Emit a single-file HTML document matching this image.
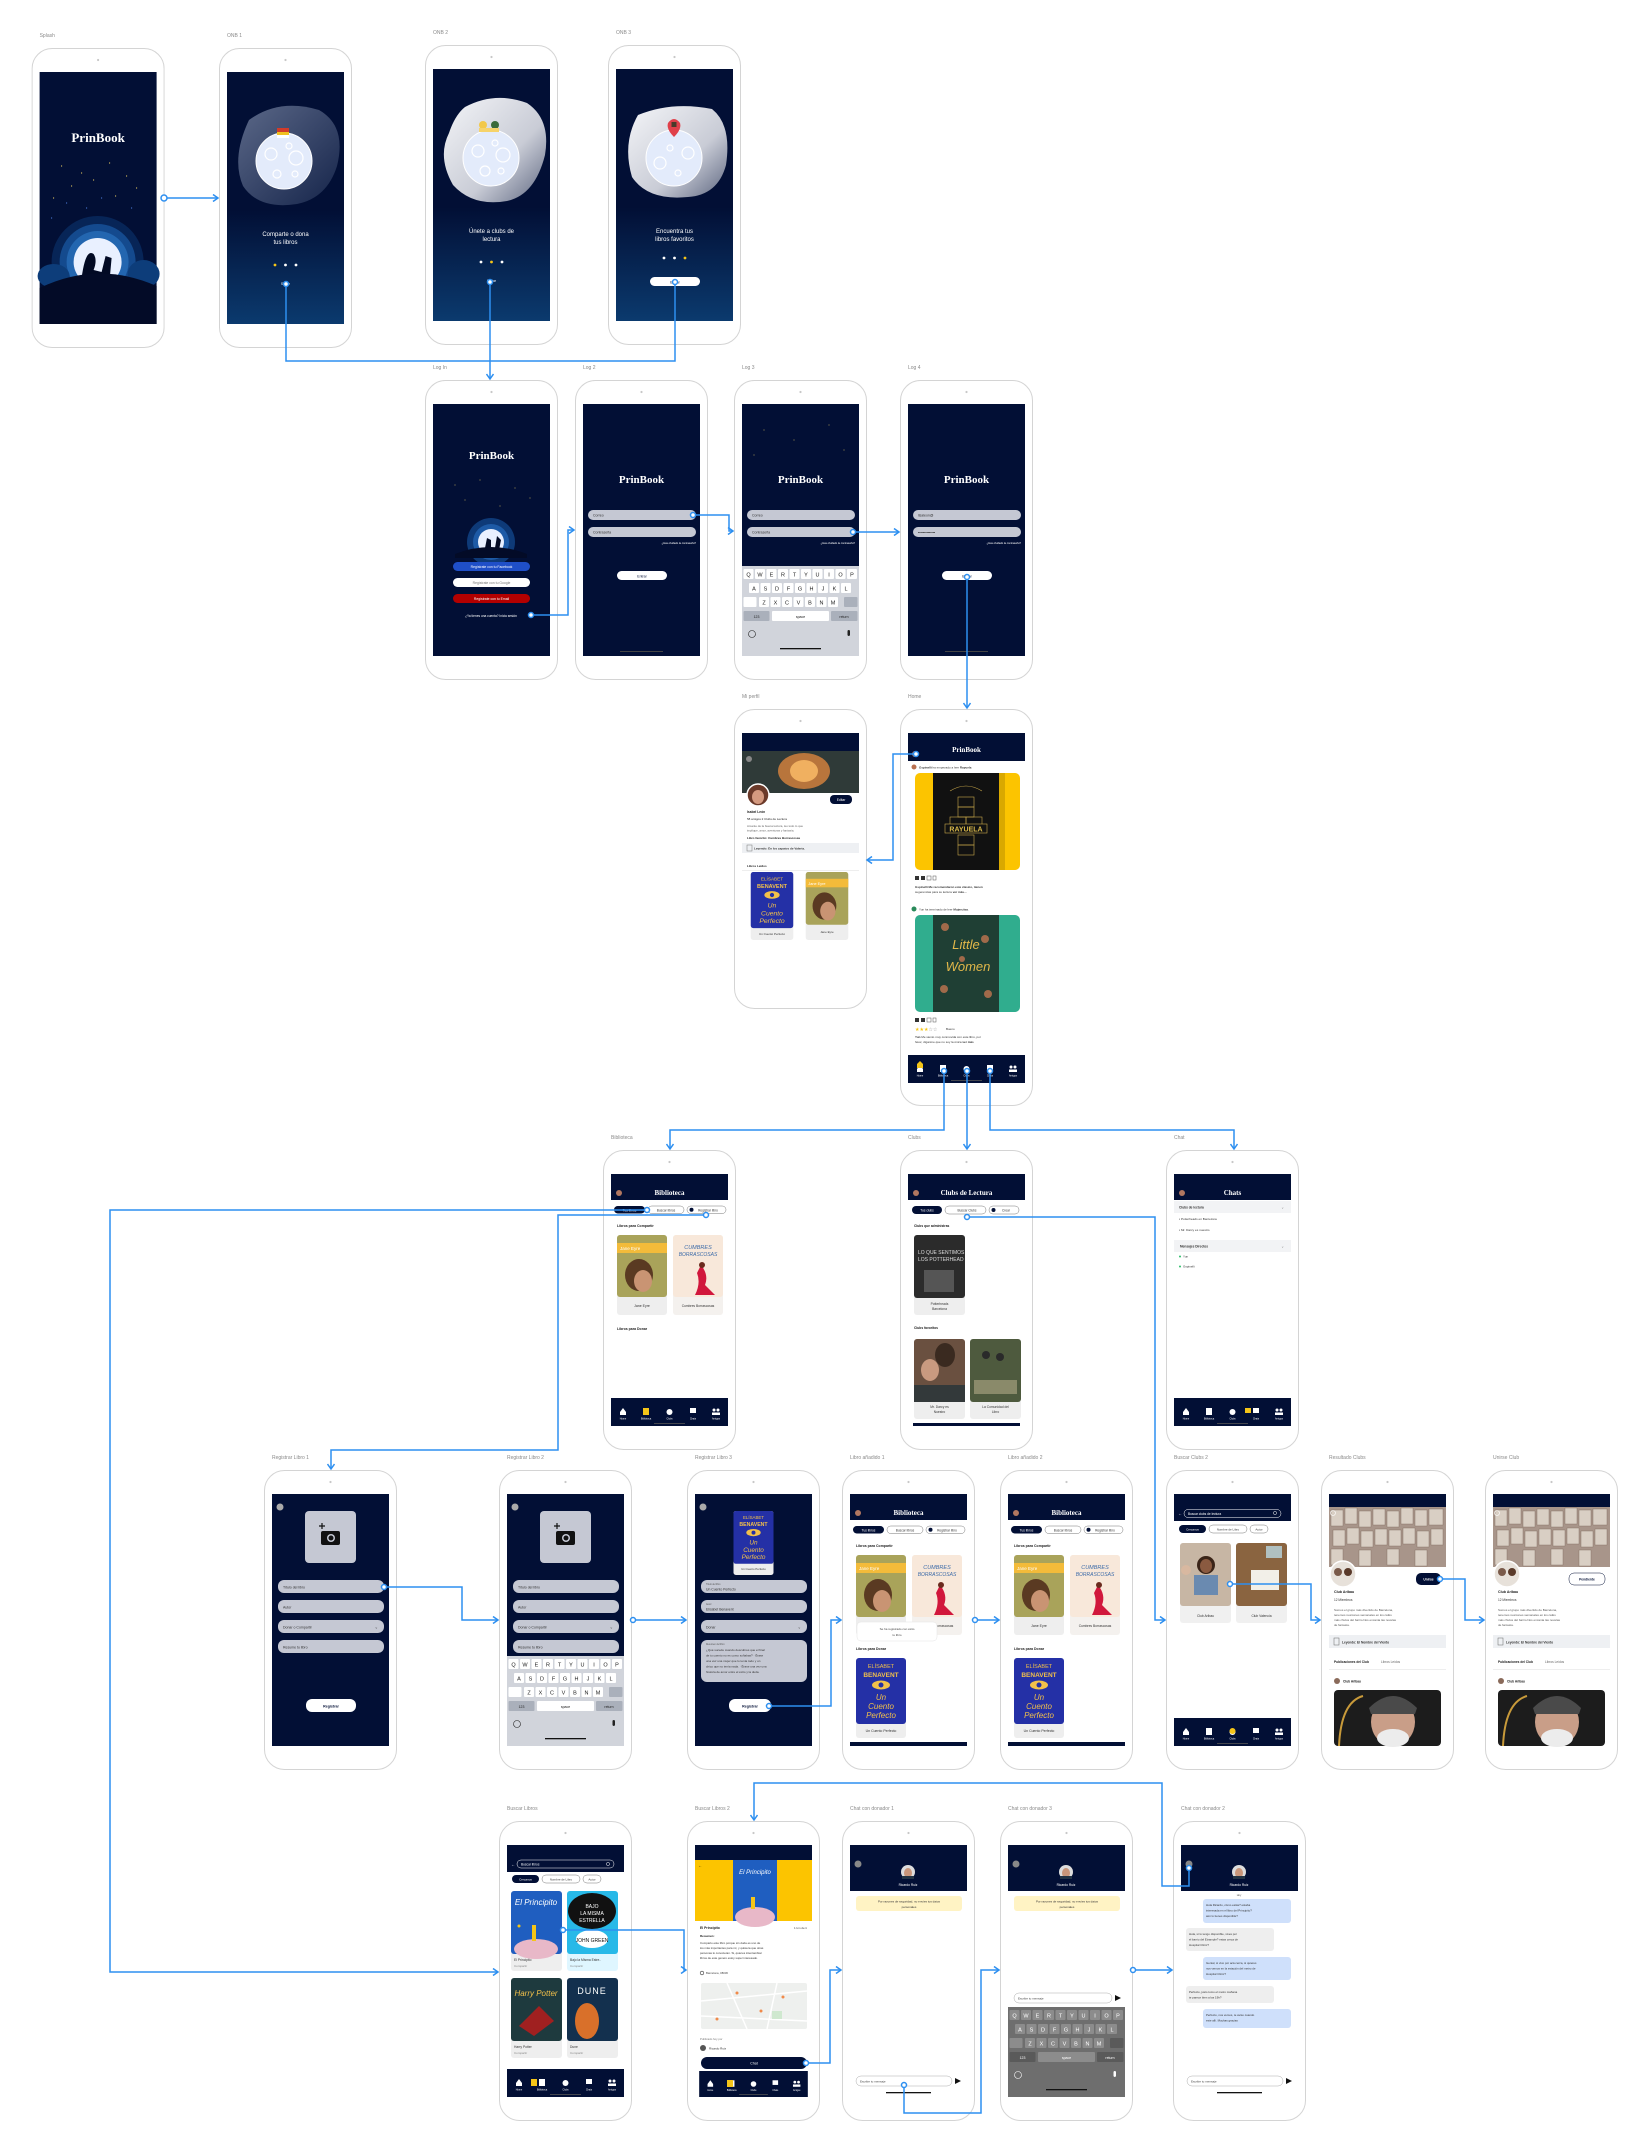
<!DOCTYPE html>
<html><head><meta charset="utf-8">
<style>
html,body{margin:0;padding:0;background:#fff;}
svg{display:block}
text{font-family:"Liberation Sans",sans-serif;}
.s{font-family:"Liberation Serif",serif;font-weight:bold;}
.m{text-anchor:middle}
.e{text-anchor:end}
.lb{font-size:5px;fill:#8a8a8a}
.c{fill:none;stroke:#2d8ff0;stroke-width:1.5}
.o{fill:#fff;stroke:#2d8ff0;stroke-width:1.5}
</style></head><body>
<svg width="1650" height="2154" viewBox="0 0 1650 2154" xmlns="http://www.w3.org/2000/svg">
<defs>
<marker id="a" markerWidth="8" markerHeight="8" refX="6" refY="4" orient="auto" markerUnits="userSpaceOnUse"><path d="M1,0.5 L6,4 L1,7.5" fill="none" stroke="#2d8ff0" stroke-width="1.5"/></marker>
<linearGradient id="onb" x1="0" y1="0" x2="0" y2="1"><stop offset="0.55" stop-color="#020f35"/><stop offset="1" stop-color="#0b3a6e"/></linearGradient>
<linearGradient id="bd" x1="0" y1="0" x2="1" y2="1"><stop offset="0" stop-color="#5b6888"/><stop offset="1" stop-color="#15244a"/></linearGradient>
<linearGradient id="bl" x1="0" y1="0" x2="1" y2="1"><stop offset="0" stop-color="#f4f5f8"/><stop offset="0.6" stop-color="#c9ccd6"/><stop offset="1" stop-color="#5d6680"/></linearGradient>
<symbol id="fr" viewBox="0 0 133 300" width="133" height="300"><rect x="0.5" y="0.5" width="132" height="299" rx="20" fill="#fff" stroke="#d4d4d4"/><circle cx="66.5" cy="12" r="1.1" fill="#c8c8c8"/></symbol>
<symbol id="nav" viewBox="0 0 117 28" width="117" height="28"><rect width="117" height="28" fill="#020f35"/>
<g fill="#fff"><path d="M9,14 L12,10 L15,14 V17 H9Z"/><rect x="32" y="10" width="6" height="7"/><circle cx="58.5" cy="14" r="3"/><rect x="79" y="10" width="6" height="5"/><circle cx="103" cy="12" r="1.5"/><circle cx="107" cy="12" r="1.5"/><rect x="101" y="14.5" width="8" height="2.5"/></g>
<g font-size="2.4" fill="#fff" text-anchor="middle"><text x="12" y="21.5">Home</text><text x="35" y="21.5">Biblioteca</text><text x="58.5" y="21.5">Clubs</text><text x="82" y="21.5">Chats</text><text x="105" y="21.5">Amigos</text></g>
<rect x="43" y="25" width="31" height="0.8" fill="#555"/></symbol>
<symbol id="kb" viewBox="0 0 117 90" width="117" height="90"><rect width="117" height="90" fill="var(--bg)"/>
<g fill="var(--k)"><rect x="1.5" y="3" width="10" height="10" rx="1"/><rect x="13" y="3" width="10" height="10" rx="1"/><rect x="24.5" y="3" width="10" height="10" rx="1"/><rect x="36" y="3" width="10" height="10" rx="1"/><rect x="47.5" y="3" width="10" height="10" rx="1"/><rect x="59" y="3" width="10" height="10" rx="1"/><rect x="70.5" y="3" width="10" height="10" rx="1"/><rect x="82" y="3" width="10" height="10" rx="1"/><rect x="93.5" y="3" width="10" height="10" rx="1"/><rect x="105" y="3" width="10" height="10" rx="1"/>
<rect x="7" y="17" width="10" height="10" rx="1"/><rect x="18.5" y="17" width="10" height="10" rx="1"/><rect x="30" y="17" width="10" height="10" rx="1"/><rect x="41.5" y="17" width="10" height="10" rx="1"/><rect x="53" y="17" width="10" height="10" rx="1"/><rect x="64.5" y="17" width="10" height="10" rx="1"/><rect x="76" y="17" width="10" height="10" rx="1"/><rect x="87.5" y="17" width="10" height="10" rx="1"/><rect x="99" y="17" width="10" height="10" rx="1"/>
<rect x="1.5" y="31" width="13" height="10" rx="1"/><rect x="17" y="31" width="10" height="10" rx="1"/><rect x="28.5" y="31" width="10" height="10" rx="1"/><rect x="40" y="31" width="10" height="10" rx="1"/><rect x="51.5" y="31" width="10" height="10" rx="1"/><rect x="63" y="31" width="10" height="10" rx="1"/><rect x="74.5" y="31" width="10" height="10" rx="1"/><rect x="86" y="31" width="10" height="10" rx="1"/>
<rect x="30" y="45" width="57" height="10" rx="1"/></g>
<g fill="var(--g)"><rect x="102" y="31" width="13.5" height="10" rx="1"/><rect x="1.5" y="45" width="26" height="10" rx="1"/><rect x="89" y="45" width="26.5" height="10" rx="1"/></g>
<g font-size="5.5" fill="var(--t)" text-anchor="middle"><text x="6.5" y="10.5">Q</text><text x="18" y="10.5">W</text><text x="29.5" y="10.5">E</text><text x="41" y="10.5">R</text><text x="52.5" y="10.5">T</text><text x="64" y="10.5">Y</text><text x="75.5" y="10.5">U</text><text x="87" y="10.5">I</text><text x="98.5" y="10.5">O</text><text x="110" y="10.5">P</text>
<text x="12" y="24.5">A</text><text x="23.5" y="24.5">S</text><text x="35" y="24.5">D</text><text x="46.5" y="24.5">F</text><text x="58" y="24.5">G</text><text x="69.5" y="24.5">H</text><text x="81" y="24.5">J</text><text x="92.5" y="24.5">K</text><text x="104" y="24.5">L</text>
<text x="22" y="38.5">Z</text><text x="33.5" y="38.5">X</text><text x="45" y="38.5">C</text><text x="56.5" y="38.5">V</text><text x="68" y="38.5">B</text><text x="79.5" y="38.5">N</text><text x="91" y="38.5">M</text>
<text x="14.5" y="52" font-size="3.5">123</text><text x="58.5" y="52" font-size="3.5">space</text><text x="102" y="52" font-size="3.5">return</text></g>
<circle cx="10" cy="68" r="3.5" fill="none" stroke="var(--t)" stroke-width="0.6"/><rect x="105.5" y="64" width="2.5" height="6" rx="1.2" fill="var(--t)"/><rect x="38" y="82" width="41" height="1.3" fill="#111"/></symbol>
<symbol id="pills" viewBox="0 0 117 10" width="117" height="10">
<rect x="3" y="1" width="31" height="7.5" rx="3.7" fill="#020f35"/><text x="18.5" y="6.3" font-size="3.2" fill="#fff" text-anchor="middle">Tus libros</text>
<rect x="37" y="1" width="36" height="7.5" rx="3.7" fill="#fff" stroke="#777" stroke-width="0.5"/><text x="55" y="6.3" font-size="3.2" fill="#333" text-anchor="middle">Buscar libros</text>
<rect x="76" y="1" width="39" height="7.5" rx="3.7" fill="#fff" stroke="#777" stroke-width="0.5"/><circle cx="80.5" cy="4.75" r="2" fill="#020f35"/><text x="97" y="6.3" font-size="3.2" fill="#333" text-anchor="middle">Registrar libro</text></symbol>
<symbol id="jane" viewBox="0 0 50 80" width="50" height="80"><rect width="50" height="80" rx="3" fill="#eeeeee"/><rect width="50" height="62" rx="3" fill="#a9a35a"/><rect y="8" width="50" height="10" fill="#f3bb3a"/><text x="3" y="15" font-size="4.5" fill="#fff">Jane Eyre</text><ellipse cx="22" cy="40" rx="14" ry="16" fill="#5a3a22"/><ellipse cx="26" cy="46" rx="9" ry="11" fill="#c99473"/><text x="25" y="72" font-size="3.5" fill="#333" text-anchor="middle">Jane Eyre</text></symbol>
<symbol id="cumb" viewBox="0 0 50 80" width="50" height="80"><rect width="50" height="80" rx="3" fill="#f4f1ee"/><rect width="50" height="62" rx="3" fill="#f8e8da"/><text x="25" y="14" font-size="5.5" fill="#3b6aa8" text-anchor="middle" font-style="italic">CUMBRES</text><text x="25" y="21" font-size="5" fill="#3b6aa8" text-anchor="middle" font-style="italic">BORRASCOSAS</text><path d="M28,30 Q36,40 32,50 L42,60 L22,60 Q28,48 24,38Z" fill="#d1173c"/><circle cx="29" cy="30" r="3" fill="#6b2a1e"/><text x="25" y="72" font-size="3.3" fill="#333" text-anchor="middle">Cumbres Borrascosas</text></symbol>
<symbol id="cuento" viewBox="0 0 50 80" width="50" height="80"><rect width="50" height="80" rx="3" fill="#eeeeee"/><rect width="50" height="66" rx="3" fill="#2430a6"/><text x="25" y="10" font-size="5.5" fill="#f2c04a" text-anchor="middle">ELÍSABET</text><text x="25" y="19" font-size="6.5" fill="#f2c04a" text-anchor="middle" font-weight="bold">BENAVENT</text><ellipse cx="25" cy="27" rx="9" ry="4.5" fill="#f2c04a"/><circle cx="25" cy="27" r="2.5" fill="#2430a6"/><text x="25" y="42" font-size="8" fill="#f2c04a" text-anchor="middle" font-style="italic">Un</text><text x="25" y="51" font-size="8" fill="#f2c04a" text-anchor="middle" font-style="italic">Cuento</text><text x="25" y="60" font-size="8" fill="#f2c04a" text-anchor="middle" font-style="italic">Perfecto</text><text x="25" y="74" font-size="3.5" fill="#333" text-anchor="middle">Un Cuento Perfecto</text></symbol>
<symbol id="bib" viewBox="0 0 133 300" width="133" height="300">
<use href="#fr"/><rect x="8" y="24" width="117" height="252" fill="#fff"/><rect x="8" y="24" width="117" height="26" fill="#020f35"/><circle cx="16" cy="43" r="3" fill="#b17760"/><text x="66.5" y="45" class="s m" font-size="7" fill="#fff">Biblioteca</text>
<use href="#pills" x="8" y="55"/><text x="14" y="77" font-size="3.5" font-weight="bold" fill="#222">Libros para Compartir</text>
<use href="#jane" x="14" y="85"/><use href="#cumb" x="70" y="85"/><text x="14" y="180" font-size="3.5" font-weight="bold" fill="#222">Libros para Donar</text></symbol>
<symbol id="club" viewBox="0 0 133 300" width="133" height="300">
<use href="#fr"/><rect x="8" y="24" width="117" height="252" fill="#fff"/><rect x="8" y="24" width="117" height="13" fill="#020f35"/><rect x="8" y="37" width="117" height="60" fill="#a8958a"/>
<g fill="#d9cfc4" stroke="#7d6a5c" stroke-width="0.4"><rect x="10" y="40" width="12" height="16"/><rect x="24" y="38" width="12" height="16"/><rect x="38" y="41" width="12" height="16"/><rect x="52" y="39" width="12" height="16"/><rect x="66" y="41" width="12" height="16"/><rect x="80" y="38" width="12" height="16"/><rect x="94" y="40" width="12" height="16"/><rect x="108" y="39" width="14" height="16"/><rect x="12" y="60" width="12" height="16"/><rect x="26" y="58" width="12" height="16"/><rect x="40" y="61" width="12" height="16"/><rect x="54" y="59" width="12" height="16"/><rect x="68" y="60" width="12" height="16"/><rect x="82" y="58" width="12" height="16"/><rect x="96" y="61" width="12" height="16"/><rect x="110" y="59" width="12" height="16"/><rect x="10" y="79" width="12" height="16"/><rect x="38" y="80" width="12" height="16"/><rect x="66" y="79" width="12" height="16"/><rect x="94" y="80" width="12" height="16"/></g>
<circle cx="12" cy="43" r="2.5" fill="none" stroke="#fff" stroke-width="0.6"/>
<circle cx="22" cy="104" r="13" fill="#e7e1da" stroke="#fff" stroke-width="1.5"/><circle cx="17" cy="102" r="4" fill="#7a5a4a"/><circle cx="27" cy="102" r="4" fill="#5a3a2a"/>
<text x="13" y="123" font-size="3.6" font-weight="bold" fill="#222">Club Aribau</text><text x="13" y="131" font-size="3.2" fill="#333">12 Miembros</text>
<g font-size="3" fill="#555"><text x="13" y="141">Somos el grupo más divertido de Barcelona,</text><text x="13" y="146">tenemos reuniones semanales en los cafés</text><text x="13" y="151">más chulos del barrio.Nos encanta las novelas</text><text x="13" y="156">de fantasía.</text></g>
<rect x="8" y="165" width="117" height="13" fill="#eef0f3"/><rect x="13" y="168" width="5" height="7" fill="none" stroke="#666" stroke-width="0.5"/><text x="21" y="173.5" font-size="3.2" font-weight="bold" fill="#333">Leyendo: El Nombre del Viento</text>
<text x="13" y="193" font-size="3.2" font-weight="bold" fill="#222">Publicaciones  del Club</text><text x="60" y="193" font-size="3.2" fill="#666">Libros Leídos</text><rect x="8" y="199" width="117" height="1" fill="#eee"/>
<circle cx="16" cy="211" r="3" fill="#8a6a5a"/><text x="22" y="212.5" font-size="3.2" font-weight="bold" fill="#222">Club Aribau</text>
<rect x="13" y="220" width="107" height="56" rx="4" fill="#1c1c1c"/><ellipse cx="72" cy="252" rx="22" ry="24" fill="#c99e88"/><path d="M48,238 Q72,214 96,238 L94,244 L50,244Z" fill="#4a4a4a"/><ellipse cx="72" cy="268" rx="16" ry="9" fill="#ececec"/><path d="M18,276 Q20,232 42,226" fill="none" stroke="#c89a3a" stroke-width="2"/></symbol>
</defs>

<!-- ============ ROW 1 ============ -->
<g transform="translate(31.6,48)"><text x="8" y="-11" class="lb">Splash</text><use href="#fr"/>
<rect x="8" y="24" width="117" height="252" fill="#020f35"/>
<text x="66.5" y="94" class="s m" font-size="13" fill="#fff">PrinBook</text>
<g fill="#e2c862"><circle cx="30" cy="118" r="0.6"/><circle cx="50" cy="125" r="0.6"/><circle cx="78" cy="115" r="0.6"/><circle cx="95" cy="128" r="0.6"/><circle cx="40" cy="138" r="0.6"/><circle cx="62" cy="132" r="0.6"/><circle cx="105" cy="140" r="0.6"/><circle cx="22" cy="150" r="0.6"/><circle cx="84" cy="148" r="0.6"/></g>
<g fill="#4c7ad8"><circle cx="35" cy="155" r="0.6"/><circle cx="70" cy="150" r="0.6"/><circle cx="100" cy="160" r="0.6"/><circle cx="55" cy="160" r="0.6"/><circle cx="20" cy="170" r="0.6"/></g>
<circle cx="66" cy="214" r="46" fill="#0a2f66" opacity="0.7"/><circle cx="66" cy="214" r="38" fill="#144a8e"/><circle cx="66" cy="214" r="31" fill="#2366b0"/><circle cx="66" cy="214" r="24" fill="#e9f0ff"/>
<ellipse cx="22" cy="228" rx="16" ry="12" fill="#0d3d7a"/><ellipse cx="112" cy="226" rx="16" ry="14" fill="#0d3d7a"/>
<path d="M50,230 Q54,200 62,206 Q66,212 62,222 L70,224 L74,208 L80,210 L78,232Z" fill="#020a24"/>
<path d="M8,240 Q66,212 125,238 V276 H8Z" fill="#030b27"/></g>

<g transform="translate(219,48)"><text x="8" y="-11" class="lb">ONB 1</text><use href="#fr"/>
<rect x="8" y="24" width="117" height="252" fill="url(#onb)"/>
<path d="M30,72 Q60,50 100,62 Q128,78 118,118 Q108,150 78,156 Q40,162 24,138 Q12,110 30,72Z" fill="url(#bd)"/>
<circle cx="65" cy="113" r="28" fill="#e3ebfb" stroke="#fff" stroke-width="1"/><g fill="none" stroke="#fff" stroke-width="1.2"><circle cx="52" cy="106" r="6"/><circle cx="77" cy="110" r="7"/><circle cx="58" cy="126" r="4"/><circle cx="70" cy="98" r="3"/><circle cx="76" cy="126" r="3"/></g>
<rect x="58" y="80" width="12" height="4" fill="#d13b2a"/><rect x="58" y="84" width="12" height="3" fill="#f0c020"/><rect x="58" y="87" width="12" height="3" fill="#fff"/>
<text x="66.5" y="188" class="m" font-size="6" fill="#fff">Comparte o dona</text><text x="66.5" y="196" class="m" font-size="6" fill="#fff">tus libros</text>
<circle cx="56" cy="217" r="1.4" fill="#f5c518"/><circle cx="66.5" cy="217" r="1.4" fill="#fff"/><circle cx="77" cy="217" r="1.4" fill="#fff"/>
<text x="66.5" y="237" class="m" font-size="3.5" fill="#fff">Saltar</text></g>

<g transform="translate(425,45)"><text x="8" y="-11" class="lb">ONB 2</text><use href="#fr"/>
<rect x="8" y="24" width="117" height="252" fill="url(#onb)"/>
<path d="M40,62 Q70,46 102,58 Q126,74 120,110 Q110,150 82,156 Q48,162 28,140 Q12,112 24,88 Q30,70 40,62Z" fill="url(#bl)"/>
<circle cx="66" cy="113" r="28" fill="#e3ebfb" stroke="#fff" stroke-width="1"/><g fill="none" stroke="#fff" stroke-width="1.2"><circle cx="53" cy="106" r="6"/><circle cx="78" cy="110" r="7"/><circle cx="60" cy="126" r="5"/><circle cx="70" cy="98" r="3"/><circle cx="76" cy="126" r="3"/></g>
<circle cx="58" cy="80" r="4" fill="#f2c84a"/><circle cx="70" cy="80" r="4" fill="#3a6b3a"/><rect x="54" y="83" width="20" height="4" fill="#f6d36a"/>
<text x="66.5" y="188" class="m" font-size="6" fill="#fff">Únete a clubs de</text><text x="66.5" y="196" class="m" font-size="6" fill="#fff">lectura</text>
<circle cx="56" cy="217" r="1.4" fill="#fff"/><circle cx="66.5" cy="217" r="1.4" fill="#f5c518"/><circle cx="77" cy="217" r="1.4" fill="#fff"/>
<text x="66.5" y="237" class="m" font-size="3.5" fill="#fff">Saltar</text></g>

<g transform="translate(608,45)"><text x="8" y="-11" class="lb">ONB 3</text><use href="#fr"/>
<rect x="8" y="24" width="117" height="252" fill="url(#onb)"/>
<path d="M30,70 Q64,56 104,64 Q124,80 118,120 Q110,150 80,152 Q40,156 24,132 Q14,98 30,70Z" fill="url(#bl)"/>
<circle cx="66" cy="113" r="28" fill="#e3ebfb" stroke="#fff" stroke-width="1"/><g fill="none" stroke="#fff" stroke-width="1.2"><circle cx="52" cy="118" r="6"/><circle cx="80" cy="108" r="6"/><circle cx="62" cy="103" r="3"/><circle cx="70" cy="128" r="3"/></g>
<path d="M66,92 Q58,84 60,78 Q66,70 72,78 Q74,84 66,92Z" fill="#e0404a"/><rect x="63.5" y="77" width="5" height="5" fill="#4a3a2a"/>
<text x="66.5" y="188" class="m" font-size="6" fill="#fff">Encuentra tus</text><text x="66.5" y="196" class="m" font-size="6" fill="#fff">libros favoritos</text>
<circle cx="56" cy="213" r="1.4" fill="#fff"/><circle cx="66.5" cy="213" r="1.4" fill="#fff"/><circle cx="77" cy="213" r="1.4" fill="#f5c518"/>
<rect x="42" y="232" width="50" height="9" rx="4.5" fill="#fff"/><text x="67" y="238.5" class="m" font-size="3.5" fill="#020f35">Entrar</text></g>

<!-- ============ ROW 2 ============ -->
<g transform="translate(425,380)"><text x="8" y="-11" class="lb">Log In</text><use href="#fr"/>
<rect x="8" y="24" width="117" height="252" fill="#020f35"/>
<text x="66.5" y="79" class="s m" font-size="11" fill="#fff">PrinBook</text>
<g fill="#d8c060"><circle cx="30" cy="105" r="0.5"/><circle cx="55" cy="100" r="0.5"/><circle cx="90" cy="108" r="0.5"/><circle cx="40" cy="120" r="0.5"/><circle cx="105" cy="118" r="0.5"/><circle cx="75" cy="126" r="0.5"/></g>
<circle cx="66" cy="162" r="24" fill="#0e3a78"/><circle cx="66" cy="162" r="18" fill="#1d5aa6"/><circle cx="66" cy="162" r="13" fill="#e9f0ff"/>
<path d="M60,168 L62,158 L66,160 L66,168Z M70,168 L72,156 L76,160 L74,170Z" fill="#020a24"/><path d="M30,174 Q66,160 102,174 V178 H30Z" fill="#030b27"/>
<rect x="28" y="182" width="77" height="9" rx="4.5" fill="#1f4fc8"/><text x="66.5" y="188" class="m" font-size="3.4" fill="#fff">Regístrate con tu Facebook</text>
<rect x="28" y="198" width="77" height="9" rx="4.5" fill="#fff"/><text x="66.5" y="204" class="m" font-size="3.4" fill="#777">Regístrate con tu Google</text>
<rect x="28" y="214" width="77" height="9" rx="4.5" fill="#b30000"/><text x="66.5" y="220" class="m" font-size="3.4" fill="#fff">Regístrate con tu Email</text>
<text x="66" y="237" class="m" font-size="3.2" fill="#fff">¿Ya tienes una cuenta? Inicia sesión</text></g>

<g transform="translate(575,380)"><text x="8" y="-11" class="lb">Log 2</text><use href="#fr"/>
<rect x="8" y="24" width="117" height="252" fill="#020f35"/>
<text x="66.5" y="103" class="s m" font-size="11" fill="#fff">PrinBook</text>
<rect x="13" y="130" width="108" height="10" rx="5" fill="#c5c8d3"/><text x="18" y="136.5" font-size="3.5" fill="#333">Correo</text>
<rect x="13" y="147" width="108" height="10" rx="5" fill="#c5c8d3"/><text x="18" y="153.5" font-size="3.5" fill="#333">Contraseña</text>
<text x="121" y="164" class="e" font-size="2.6" fill="#fff">¿Has olvidado la contraseña?</text>
<rect x="42" y="191" width="50" height="9" rx="4.5" fill="#fff"/><text x="67" y="197.5" class="m" font-size="3.5" fill="#020f35">Entrar</text>
<rect x="45" y="271" width="43" height="1" fill="#444"/></g>

<g transform="translate(734,380)"><text x="8" y="-11" class="lb">Log 3</text><use href="#fr"/>
<rect x="8" y="24" width="117" height="252" fill="#020f35"/>
<g fill="#d8c060"><circle cx="30" cy="50" r="0.5"/><circle cx="95" cy="45" r="0.5"/><circle cx="60" cy="60" r="0.5"/><circle cx="20" cy="75" r="0.5"/><circle cx="110" cy="70" r="0.5"/></g>
<text x="66.5" y="103" class="s m" font-size="11" fill="#fff">PrinBook</text>
<rect x="13" y="130" width="108" height="10" rx="5" fill="#c5c8d3"/><text x="18" y="136.5" font-size="3.5" fill="#333">Correo</text>
<rect x="13" y="147" width="108" height="10" rx="5" fill="#c5c8d3"/><text x="18" y="153.5" font-size="3.5" fill="#333">Contraseña</text>
<text x="121" y="164" class="e" font-size="2.6" fill="#fff">¿Has olvidado la contraseña?</text>
<use href="#kb" x="8" y="186" style="--bg:#d1d4db;--k:#fff;--t:#222;--g:#aab0bb"/></g>

<g transform="translate(900,380)"><text x="8" y="-11" class="lb">Log 4</text><use href="#fr"/>
<rect x="8" y="24" width="117" height="252" fill="#020f35"/>
<text x="66.5" y="103" class="s m" font-size="11" fill="#fff">PrinBook</text>
<rect x="13" y="130" width="108" height="10" rx="5" fill="#c5c8d3"/><text x="18" y="136.5" font-size="3.5" fill="#333">lisaleon@</text>
<rect x="13" y="147" width="108" height="10" rx="5" fill="#c5c8d3"/><text x="18" y="153.5" font-size="3.5" fill="#333">••••••••••••••</text>
<text x="121" y="164" class="e" font-size="2.6" fill="#fff">¿Has olvidado la contraseña?</text>
<rect x="42" y="191" width="50" height="9" rx="4.5" fill="#fff"/><text x="67" y="197.5" class="m" font-size="3.5" fill="#020f35">Entrar</text>
<rect x="45" y="271" width="43" height="1" fill="#444"/></g>

<!-- ============ ROW 3 ============ -->
<g transform="translate(734,709)"><text x="8" y="-11" class="lb">Mi perfil</text><use href="#fr"/>
<rect x="8" y="24" width="117" height="252" fill="#fff"/><rect x="8" y="24" width="117" height="18" fill="#020f35"/>
<rect x="8" y="42" width="117" height="42" fill="#2f3a38"/><ellipse cx="70" cy="62" rx="26" ry="18" fill="#b8753c"/><ellipse cx="70" cy="62" rx="14" ry="11" fill="#f0b060"/><circle cx="15" cy="50" r="3" fill="#888"/>
<circle cx="24" cy="86" r="11" fill="#6b3a2a" stroke="#fff" stroke-width="1.5"/><ellipse cx="24" cy="88" rx="6" ry="7" fill="#d49a80"/>
<rect x="96" y="86" width="22" height="9" rx="4" fill="#020f35"/><text x="107" y="92" class="m" font-size="3.3" fill="#fff">Editar</text>
<text x="13" y="104" font-size="3.3" font-weight="bold" fill="#222">Isabel León</text><text x="13" y="111" font-size="3" fill="#222">58 amigos    2 Clubs de Lectura</text>
<text x="13" y="118" font-size="2.9" fill="#666">Amante de la buena lectura, leo todo lo que</text><text x="13" y="122.5" font-size="2.9" fill="#666">implique, amor, aventuras y fantasía.</text>
<text x="13" y="130" font-size="3" font-weight="bold" fill="#222">Libro favorito: Cumbres Borrascosas</text>
<rect x="8" y="134" width="117" height="10" fill="#eef0f3"/><rect x="13" y="136" width="5" height="6" fill="none" stroke="#777" stroke-width="0.5"/><text x="20" y="140.5" font-size="3" font-weight="bold" fill="#333">Leyendo: En los zapatos de Valeria.</text>
<text x="13" y="158" font-size="3" font-weight="bold" fill="#222">Libros Leídos</text><rect x="8" y="161" width="117" height="1" fill="#eee"/>
<use href="#cuento" x="13" y="163" width="50" height="68"/><use href="#jane" x="68" y="163" width="50" height="68"/></g>

<g transform="translate(900,709)"><text x="8" y="-11" class="lb">Home</text>
<rect x="0.5" y="0.5" width="132" height="396" rx="20" fill="#fff" stroke="#d4d4d4"/><circle cx="66.5" cy="12" r="1.1" fill="#c8c8c8"/>
<rect x="8" y="24" width="117" height="28" fill="#020f35"/><text x="66.5" y="43" class="s m" font-size="7" fill="#fff">PrinBook</text><circle cx="15" cy="45" r="3" fill="#b17760"/>
<circle cx="14" cy="58" r="2.5" fill="#b87050"/><text x="19" y="59.5" font-size="3" fill="#333"><tspan font-weight="bold">Gspinelli</tspan> ha empezado a leer <tspan font-weight="bold">Rayuela</tspan></text>
<rect x="15" y="64" width="105" height="97" rx="5" fill="#fcc400"/><rect x="33" y="64" width="66" height="97" fill="#111"/><rect x="99" y="64" width="6" height="97" fill="#d9a800"/>
<g fill="none" stroke="#c9a84a" stroke-width="0.6"><path d="M50,82 Q66,72 82,82"/><rect x="58" y="88" width="16" height="10"/><rect x="58" y="98" width="16" height="10"/><rect x="50" y="108" width="16" height="10"/><rect x="66" y="108" width="16" height="10"/><rect x="58" y="126" width="16" height="10"/><rect x="58" y="136" width="16" height="10"/></g>
<rect x="45" y="115" width="42" height="9" fill="#111" stroke="#c9a84a" stroke-width="0.6"/><text x="66" y="122.5" class="m" font-size="7" font-weight="bold" fill="#d9b84a">RAYUELA</text>
<g fill="#333"><rect x="15" y="167" width="4" height="4"/><rect x="21" y="167" width="4" height="4"/><rect x="27" y="167" width="4" height="4" fill="none" stroke="#555" stroke-width="0.5"/><rect x="33" y="167" width="3" height="4" fill="none" stroke="#555" stroke-width="0.5"/></g>
<text x="15" y="179" font-size="3" fill="#333"><tspan font-weight="bold">Gspinelli Me recomendaron este clasico, tienen</tspan></text><text x="15" y="184" font-size="3" fill="#333">sugerencias para su lectura <tspan font-weight="bold">ver más...</tspan></text>
<circle cx="14" cy="200" r="2.5" fill="#2a8a5a"/><text x="19" y="201.5" font-size="3" fill="#333">Yun ha terminado de leer <tspan font-weight="bold">Mujercitas</tspan>.</text>
<rect x="15" y="206" width="105" height="97" rx="5" fill="#30ad8e"/><rect x="33" y="206" width="66" height="97" fill="#1f3f34"/>
<g fill="#a06a4a"><circle cx="45" cy="218" r="4"/><circle cx="85" cy="230" r="4"/><circle cx="44" cy="280" r="4"/><circle cx="88" cy="285" r="4"/><circle cx="62" cy="250" r="3"/></g>
<text x="66" y="240" class="m" font-size="13" font-style="italic" fill="#e2b84a">Little</text><text x="68" y="262" class="m" font-size="13" font-style="italic" fill="#e2b84a">Women</text>
<g fill="#333"><rect x="15" y="309" width="4" height="4"/><rect x="21" y="309" width="4" height="4"/><rect x="27" y="309" width="4" height="4" fill="none" stroke="#555" stroke-width="0.5"/><rect x="33" y="309" width="3" height="4" fill="none" stroke="#555" stroke-width="0.5"/></g>
<text x="15" y="322" font-size="5" fill="#f5c518">★★★<tspan fill="#888">☆☆</tspan></text><text x="46" y="321" font-size="3" fill="#333">Bueno</text>
<text x="15" y="329" font-size="3" fill="#333"><tspan font-weight="bold">Yun</tspan> Me siento muy conmovida con este libro, por</text><text x="15" y="334" font-size="3" fill="#333">favor, díganme que no soy la única <tspan font-weight="bold">ver más</tspan></text>
<use href="#nav" x="8" y="346"/><path d="M17,355 L20,352 L23,355 V359 H17Z" fill="#f5c518"/></g>

<!-- ============ ROW 4 ============ -->
<g transform="translate(603,1150)"><text x="8" y="-11" class="lb">Biblioteca</text><use href="#bib"/>
<use href="#nav" x="8" y="248"/><rect x="40" y="258" width="6" height="7" fill="#f5c518"/></g>

<g transform="translate(900,1150)"><text x="8" y="-11" class="lb">Clubs</text><use href="#fr"/>
<rect x="8" y="24" width="117" height="252" fill="#fff"/><rect x="8" y="24" width="117" height="26" fill="#020f35"/><circle cx="16" cy="43" r="3" fill="#b17760"/><text x="66.5" y="45" class="s m" font-size="7" fill="#fff">Clubs de Lectura</text>
<rect x="12" y="56" width="30" height="8" rx="4" fill="#020f35"/><text x="27" y="61.5" class="m" font-size="3.2" fill="#fff">Tus clubs</text>
<rect x="45" y="56" width="41" height="8" rx="4" fill="#fff" stroke="#777" stroke-width="0.5"/><text x="67" y="61.5" class="m" font-size="3.2" fill="#333">Buscar Clubs</text>
<rect x="89" y="56" width="30" height="8" rx="4" fill="#fff" stroke="#777" stroke-width="0.5"/><circle cx="93.5" cy="60" r="2" fill="#020f35"/><text x="106" y="61.5" class="m" font-size="3.2" fill="#333">Crear</text>
<text x="14" y="77" font-size="3.3" font-weight="bold" fill="#222">Clubs que administras</text>
<rect x="14" y="85" width="51" height="80" rx="3" fill="#eee"/><rect x="14" y="85" width="51" height="63" rx="3" fill="#2b2b2b"/><text x="18" y="104" font-size="5" fill="#ddd">LO QUE SENTIMOS</text><text x="18" y="111" font-size="5" fill="#ddd">LOS POTTERHEAD</text><rect x="24" y="120" width="30" height="22" fill="#555"/>
<text x="39.5" y="155" class="m" font-size="3.3" fill="#333">Potterheads</text><text x="39.5" y="160" class="m" font-size="3.3" fill="#333">Barcelona</text>
<text x="14" y="179" font-size="3.3" font-weight="bold" fill="#222">Clubs favoritos</text>
<rect x="14" y="189" width="51" height="80" rx="3" fill="#eee"/><rect x="14" y="189" width="51" height="63" rx="3" fill="#6a5040"/><ellipse cx="45" cy="205" rx="10" ry="12" fill="#3a2a20"/><ellipse cx="30" cy="220" rx="9" ry="11" fill="#c99a80"/><rect x="14" y="235" width="51" height="17" fill="#33393a"/>
<text x="39.5" y="258" class="m" font-size="3.3" fill="#333">Mr. Darcy es</text><text x="39.5" y="263" class="m" font-size="3.3" fill="#333">Nuestro</text>
<rect x="70" y="189" width="51" height="80" rx="3" fill="#eee"/><rect x="70" y="189" width="51" height="63" rx="3" fill="#4e5a3e"/><rect x="74" y="230" width="43" height="14" fill="#8a8a6a"/><circle cx="86" cy="205" r="4" fill="#2a2a2a"/><circle cx="100" cy="207" r="4" fill="#2a2a2a"/>
<text x="95.5" y="258" class="m" font-size="3.3" fill="#333">La Comunidad del</text><text x="95.5" y="263" class="m" font-size="3.3" fill="#333">Libro</text>
<rect x="13" y="273" width="107" height="3" fill="#020f35"/></g>

<g transform="translate(1166,1150)"><text x="8" y="-11" class="lb">Chat</text><use href="#fr"/>
<rect x="8" y="24" width="117" height="252" fill="#fff"/><rect x="8" y="24" width="117" height="26" fill="#020f35"/><circle cx="16" cy="43" r="3" fill="#b17760"/><text x="66.5" y="45" class="s m" font-size="7" fill="#fff">Chats</text>
<rect x="8" y="51" width="117" height="12" fill="#f2f3f5"/><text x="13" y="58.5" font-size="3.2" font-weight="bold" fill="#333">Clubs de lectura</text><text x="118" y="58.5" class="e" font-size="3.5" fill="#555">⌄</text>
<text x="13" y="70" font-size="3.1" fill="#333">▪ Potterheads en Barcelona</text><text x="13" y="81" font-size="3.1" fill="#333">▪ Mr. Darcy es nuestro</text>
<rect x="8" y="90" width="117" height="12" fill="#f2f3f5"/><text x="14" y="97.5" font-size="3.2" font-weight="bold" fill="#333">Mensajes Directos</text><text x="118" y="97.5" class="e" font-size="3.5" fill="#555">⌄</text>
<circle cx="14" cy="106.5" r="1" fill="#2bc06a"/><text x="17" y="107.5" font-size="3" fill="#333">Yun</text><circle cx="14" cy="116.5" r="1" fill="#2bc06a"/><text x="17" y="117.5" font-size="3" fill="#333">Gspinelli</text>
<use href="#nav" x="8" y="248"/><rect x="79" y="258" width="6" height="5" fill="#f5c518"/></g>

<!-- ============ ROW 5 ============ -->
<g transform="translate(264,1470)"><text x="8" y="-11" class="lb">Registrar Libro 1</text><use href="#fr"/>
<rect x="8" y="24" width="117" height="252" fill="#020f35"/><circle cx="16" cy="37" r="3.5" fill="#aaa"/>
<rect x="41" y="41" width="51" height="52" rx="4" fill="#c5c8d3"/><rect x="57" y="61" width="19" height="14" rx="2" fill="#111"/><circle cx="67" cy="68" r="4" fill="#c5c8d3"/><circle cx="67" cy="68" r="2.5" fill="#111"/><path d="M55,56 h6 M58,53 v6" stroke="#111" stroke-width="1.2"/>
<rect x="14" y="110" width="106" height="13" rx="6" fill="#c5c8d3"/><text x="19" y="118.5" font-size="3.5" fill="#333">Título del libro</text>
<rect x="14" y="130" width="106" height="13" rx="6" fill="#c5c8d3"/><text x="19" y="138.5" font-size="3.5" fill="#333">Autor</text>
<rect x="14" y="150" width="106" height="13" rx="6" fill="#c5c8d3"/><text x="19" y="158.5" font-size="3.5" fill="#333">Donar o Compartir</text><text x="114" y="158.5" class="e" font-size="4" fill="#333">⌄</text>
<rect x="14" y="170" width="106" height="13" rx="6" fill="#c5c8d3"/><text x="19" y="178.5" font-size="3.5" fill="#333">Resume tu libro</text>
<rect x="42" y="229" width="50" height="13" rx="6" fill="#fff"/><text x="67" y="237.5" class="m" font-size="3.6" font-weight="bold" fill="#020f35">Registrar</text></g>

<g transform="translate(499,1470)"><text x="8" y="-11" class="lb">Registrar Libro 2</text><use href="#fr"/>
<rect x="8" y="24" width="117" height="252" fill="#020f35"/><circle cx="16" cy="37" r="3.5" fill="#aaa"/>
<rect x="41" y="41" width="51" height="52" rx="4" fill="#c5c8d3"/><rect x="57" y="61" width="19" height="14" rx="2" fill="#111"/><circle cx="67" cy="68" r="4" fill="#c5c8d3"/><circle cx="67" cy="68" r="2.5" fill="#111"/><path d="M55,56 h6 M58,53 v6" stroke="#111" stroke-width="1.2"/>
<rect x="14" y="110" width="106" height="13" rx="6" fill="#c5c8d3"/><text x="19" y="118.5" font-size="3.5" fill="#333">Título del libro</text>
<rect x="14" y="130" width="106" height="13" rx="6" fill="#c5c8d3"/><text x="19" y="138.5" font-size="3.5" fill="#333">Autor</text>
<rect x="14" y="150" width="106" height="13" rx="6" fill="#c5c8d3"/><text x="19" y="158.5" font-size="3.5" fill="#333">Donar o Compartir</text><text x="114" y="158.5" class="e" font-size="4" fill="#333">⌄</text>
<rect x="14" y="170" width="106" height="13" rx="6" fill="#c5c8d3"/><text x="19" y="178.5" font-size="3.5" fill="#333">Resume tu libro</text>
<use href="#kb" x="8" y="186" style="--bg:#d1d4db;--k:#fff;--t:#222;--g:#aab0bb"/></g>

<g transform="translate(687,1470)"><text x="8" y="-11" class="lb">Registrar Libro 3</text><use href="#fr"/>
<rect x="8" y="24" width="117" height="252" fill="#020f35"/><circle cx="16" cy="37" r="3.5" fill="#aaa"/>
<use href="#cuento" x="41" y="41" width="51" height="64" viewBox="0 0 50 66" preserveAspectRatio="none"/>
<rect x="14" y="110" width="106" height="13" rx="6" fill="#c5c8d3"/><text x="19" y="115" font-size="2.3" fill="#555">Título del libro</text><text x="19" y="120.5" font-size="3.4" fill="#333">Un Cuento Perfecto</text>
<rect x="14" y="130" width="106" height="13" rx="6" fill="#c5c8d3"/><text x="19" y="135" font-size="2.3" fill="#555">Autor</text><text x="19" y="140.5" font-size="3.4" fill="#333">Elísabet Benavent</text>
<rect x="14" y="150" width="106" height="13" rx="6" fill="#c5c8d3"/><text x="19" y="158.5" font-size="3.5" fill="#333">Donar</text><text x="114" y="158.5" class="e" font-size="4" fill="#333">⌄</text>
<rect x="14" y="170" width="106" height="42" rx="6" fill="#c5c8d3"/><text x="19" y="175" font-size="2.3" fill="#555">Resumen del libro</text>
<g font-size="3" fill="#333"><text x="19" y="181">¿Qué sucede cuando descubres que el final</text><text x="19" y="186.5">de tu cuento no es como soñabas? · Érase</text><text x="19" y="192">una vez una mujer que lo tenía todo y un</text><text x="19" y="197.5">chico que no tenía nada. · Érase una vez una</text><text x="19" y="203">historia de amor entre el éxito y la duda.</text></g>
<rect x="42" y="229" width="42" height="13" rx="6" fill="#fff"/><text x="63" y="237.5" class="m" font-size="3.6" font-weight="bold" fill="#020f35">Registrar</text></g>

<g transform="translate(842,1470)"><text x="8" y="-11" class="lb">Libro añadido 1</text><use href="#bib"/>
<rect x="15" y="152" width="80" height="19" rx="4" fill="#fff" stroke="#e4e4e4" stroke-width="0.5"/><text x="55" y="160" class="m" font-size="3" fill="#444">Se ha registrado con éxito</text><text x="55" y="166" class="m" font-size="3" fill="#444">tu libro</text>
<use href="#cuento" x="14" y="188"/><rect x="8" y="272" width="117" height="4" fill="#020f35"/></g>

<g transform="translate(1000,1470)"><text x="8" y="-11" class="lb">Libro añadido 2</text><use href="#bib"/>
<use href="#cuento" x="14" y="188"/><rect x="8" y="272" width="117" height="4" fill="#020f35"/></g>

<g transform="translate(1166,1470)"><text x="8" y="-11" class="lb">Buscar Clubs 2</text><use href="#fr"/>
<rect x="8" y="24" width="117" height="252" fill="#fff"/><rect x="8" y="24" width="117" height="27" fill="#020f35"/>
<text x="12" y="45" font-size="4" fill="#fff">←</text><rect x="18" y="39.5" width="97" height="8" rx="4" fill="none" stroke="#fff" stroke-width="0.5"/><text x="22" y="45" font-size="3.2" fill="#fff">Buscar clubs de lectura</text><circle cx="109" cy="43" r="1.6" fill="none" stroke="#fff" stroke-width="0.5"/>
<rect x="13" y="55" width="27" height="8" rx="4" fill="#020f35"/><text x="26.5" y="60.5" class="m" font-size="3" fill="#fff">Cercanos</text>
<rect x="43" y="55" width="38" height="8" rx="4" fill="#fff" stroke="#777" stroke-width="0.5"/><text x="62" y="60.5" class="m" font-size="3" fill="#333">Nombre de Libro</text>
<rect x="84" y="55" width="18" height="8" rx="4" fill="#fff" stroke="#777" stroke-width="0.5"/><text x="93" y="60.5" class="m" font-size="3" fill="#333">Autor</text>
<rect x="14" y="73" width="51" height="80" rx="3" fill="#f0f0f0"/><rect x="14" y="73" width="51" height="63" rx="3" fill="#c7b6a4"/><circle cx="40" cy="95" r="9" fill="#3a2418"/><ellipse cx="40" cy="96" rx="6" ry="7" fill="#8a5a40"/><rect x="28" y="105" width="24" height="20" fill="#6a8ab0"/><circle cx="20" cy="100" r="5" fill="#d8b8a0"/>
<text x="39.5" y="147" class="m" font-size="3.3" fill="#333">Club Aribau</text>
<rect x="70" y="73" width="51" height="80" rx="3" fill="#f0f0f0"/><rect x="70" y="73" width="51" height="63" rx="3" fill="#8a6440"/><rect x="85" y="100" width="28" height="20" fill="#f2efe8"/><rect x="100" y="76" width="16" height="12" fill="#b0c0c0"/>
<text x="95.5" y="147" class="m" font-size="3.3" fill="#333">Club Valencia</text>
<use href="#nav" x="8" y="248"/><circle cx="66.5" cy="261" r="3" fill="#f5c518"/></g>

<g transform="translate(1321,1470)"><text x="8" y="-11" class="lb">Resultado Clubs</text><use href="#club"/>
<rect x="95" y="103" width="25" height="12" rx="5" fill="#020f35"/><text x="107.5" y="110.5" class="m" font-size="3.3" font-weight="bold" fill="#fff">Unirse</text></g>

<g transform="translate(1485,1470)"><text x="8" y="-11" class="lb">Unirse Club</text><use href="#club"/>
<rect x="84" y="103" width="36" height="12" rx="5" fill="#fff" stroke="#020f35" stroke-width="0.5"/><text x="102" y="110.5" class="m" font-size="3.3" font-weight="bold" fill="#020f35">Pendiente</text></g>

<!-- ============ ROW 6 ============ -->
<g transform="translate(499,1821)"><text x="8" y="-11" class="lb">Buscar Libros</text><use href="#fr"/>
<rect x="8" y="24" width="117" height="252" fill="#fff"/><rect x="8" y="24" width="117" height="27" fill="#020f35"/>
<text x="12" y="45" font-size="4" fill="#fff">←</text><rect x="18" y="39" width="97" height="8" rx="4" fill="none" stroke="#fff" stroke-width="0.5"/><text x="22" y="44.5" font-size="3.2" fill="#fff">Buscar libros</text><circle cx="109" cy="43" r="1.6" fill="none" stroke="#fff" stroke-width="0.5"/>
<rect x="13" y="54" width="27" height="8" rx="4" fill="#020f35"/><text x="26.5" y="59.5" class="m" font-size="3" fill="#fff">Cercanos</text>
<rect x="43" y="54" width="38" height="8" rx="4" fill="#fff" stroke="#777" stroke-width="0.5"/><text x="62" y="59.5" class="m" font-size="3" fill="#333">Nombre de Libro</text>
<rect x="84" y="54" width="18" height="8" rx="4" fill="#fff" stroke="#777" stroke-width="0.5"/><text x="93" y="59.5" class="m" font-size="3" fill="#333">Autor</text>
<rect x="12" y="70" width="51" height="80" rx="3" fill="#eee"/><rect x="12" y="70" width="51" height="63" rx="3" fill="#1f5ec0"/><text x="37" y="84" class="m" font-size="8" font-style="italic" fill="#fff">El Principito</text><ellipse cx="37" cy="128" rx="22" ry="10" fill="#e8b8c8"/><rect x="33" y="104" width="4" height="16" fill="#f5c518"/><circle cx="20" cy="105" r="1.5" fill="#f5c518"/>
<text x="15" y="140" font-size="3.3" fill="#333">El Principito</text><text x="15" y="146" font-size="3" fill="#888">Compartir</text>
<rect x="68" y="70" width="51" height="80" rx="3" fill="#dff6ff"/><rect x="68" y="70" width="51" height="63" rx="3" fill="#28b9e8"/><ellipse cx="93" cy="90" rx="24" ry="18" fill="#111"/><text x="93" y="87" class="m" font-size="5" fill="#fff">BAJO</text><text x="93" y="94" class="m" font-size="5" fill="#fff">LA MISMA</text><text x="93" y="101" class="m" font-size="5" fill="#fff">ESTRELLA</text><ellipse cx="93" cy="118" rx="16" ry="9" fill="#fff"/><text x="93" y="121" class="m" font-size="5" fill="#111">JOHN GREEN</text>
<text x="71" y="140" font-size="3.3" fill="#333">Bajo la Misma Estre..</text><text x="71" y="146" font-size="3" fill="#888">Compartir</text>
<rect x="12" y="157" width="51" height="80" rx="3" fill="#eee"/><rect x="12" y="157" width="51" height="63" rx="3" fill="#1e3a3e"/><text x="37" y="175" class="m" font-size="8" font-style="italic" fill="#f2c04a">Harry Potter</text><path d="M20,205 L40,185 L55,200 L35,215Z" fill="#a02020"/>
<text x="15" y="227" font-size="3.3" fill="#333">Harry Potter</text><text x="15" y="233" font-size="3" fill="#888">Compartir</text>
<rect x="68" y="157" width="51" height="80" rx="3" fill="#eee"/><rect x="68" y="157" width="51" height="63" rx="3" fill="#13304e"/><text x="93" y="173" class="m" font-size="9" fill="#fff" letter-spacing="1">DUNE</text><ellipse cx="88" cy="200" rx="12" ry="18" fill="#d9702a"/>
<text x="71" y="227" font-size="3.3" fill="#333">Dune</text><text x="71" y="233" font-size="3" fill="#888">Compartir</text>
<use href="#nav" x="8" y="248"/><rect x="32" y="258" width="6" height="7" fill="#f5c518"/></g>

<g transform="translate(687,1821)"><text x="8" y="-11" class="lb">Buscar Libros 2</text><use href="#fr"/>
<rect x="8" y="24" width="117" height="252" fill="#fff"/><rect x="8" y="24" width="117" height="15" fill="#020f35"/>
<rect x="8" y="39" width="117" height="61" fill="#fcc400"/><rect x="46" y="39" width="44" height="61" fill="#1f5ec0"/><text x="68" y="53" class="m" font-size="6" font-style="italic" fill="#fff">El Principito</text><ellipse cx="68" cy="96" rx="20" ry="10" fill="#e8b8c8"/><rect x="64" y="76" width="4" height="12" fill="#f5c518"/><text x="11" y="46" font-size="4" fill="#111">←</text>
<text x="13" y="108" font-size="3.4" font-weight="bold" fill="#222">El Principito</text><text x="120" y="108" class="e" font-size="3" fill="#444">1 km de ti</text>
<text x="13" y="116" font-size="3" font-weight="bold" fill="#222">Resumen:</text>
<g font-size="2.9" fill="#333"><text x="13" y="123">Comparto este libro porque sin duda es uno de</text><text x="13" y="128">los más importantes para mí, y quisiera que otras</text><text x="13" y="133">personas lo conocieran. Si, quieres intercambiar</text><text x="13" y="138">libros de este genero estoy super interesado.</text></g>
<circle cx="15" cy="152" r="1.8" fill="none" stroke="#333" stroke-width="0.6"/><text x="19" y="153" font-size="2.8" fill="#444">Barcelona, 08036</text>
<rect x="14" y="162" width="106" height="46" rx="2" fill="#eef0ee"/><g stroke="#fff" stroke-width="1.5"><path d="M14,180 L120,170 M40,162 L60,208 M14,195 L120,200 M90,162 L80,208"/></g><g fill="#f08a4a"><circle cx="50" cy="172" r="1.5"/><circle cx="74" cy="190" r="1.5"/><circle cx="96" cy="176" r="1.5"/><circle cx="30" cy="198" r="1.5"/></g><rect x="85" y="190" width="10" height="8" fill="#cfe8cf"/>
<text x="13" y="219" font-size="2.8" fill="#777">Publicado hoy por</text><circle cx="16" cy="227" r="3" fill="#555"/><text x="22" y="228.5" font-size="3" fill="#333">Ricardo Ruiz</text>
<rect x="14" y="236" width="106" height="12" rx="6" fill="#020f35"/><text x="67" y="243.5" class="m" font-size="3.5" fill="#fff">Chat</text>
<use href="#nav" x="8" y="250" height="26" width="117" preserveAspectRatio="none"/><rect x="40" y="259" width="6" height="7" fill="#f5c518"/></g>

<g transform="translate(842,1821)"><text x="8" y="-11" class="lb">Chat con donador 1</text><use href="#fr"/>
<rect x="8" y="24" width="117" height="252" fill="#fff"/><rect x="8" y="24" width="117" height="46" fill="#020f35"/><circle cx="16" cy="43" r="3.5" fill="#888"/>
<circle cx="66" cy="51" r="7" fill="#ddd"/><ellipse cx="66" cy="52" rx="4" ry="5" fill="#c9967a"/><rect x="60" y="55" width="12" height="3" fill="#234"/><text x="66" y="65" class="m" font-size="3.3" fill="#fff">Ricardo Ruiz</text>
<rect x="14" y="75" width="106" height="15" rx="3" fill="#fff3c4"/><text x="67" y="81.5" class="m" font-size="3" fill="#333">Por razones de seguridad, no envíes tus datos</text><text x="67" y="87" class="m" font-size="3" fill="#333">personales</text>
<rect x="14" y="255" width="96" height="10" rx="5" fill="#fff" stroke="#aaa" stroke-width="0.5"/><text x="18" y="261.5" font-size="3" fill="#444">Escribe tu mensaje</text><path d="M113,257 L119,260 L113,263Z" fill="#111"/>
<rect x="44" y="271" width="45" height="1.3" fill="#111"/></g>

<g transform="translate(1000,1821)"><text x="8" y="-11" class="lb">Chat con donador 3</text><use href="#fr"/>
<rect x="8" y="24" width="117" height="252" fill="#fff"/><rect x="8" y="24" width="117" height="46" fill="#020f35"/><circle cx="16" cy="43" r="3.5" fill="#888"/>
<circle cx="66" cy="51" r="7" fill="#ddd"/><ellipse cx="66" cy="52" rx="4" ry="5" fill="#c9967a"/><rect x="60" y="55" width="12" height="3" fill="#234"/><text x="66" y="65" class="m" font-size="3.3" fill="#fff">Ricardo Ruiz</text>
<rect x="14" y="75" width="106" height="15" rx="3" fill="#fff3c4"/><text x="67" y="81.5" class="m" font-size="3" fill="#333">Por razones de seguridad, no envíes tus datos</text><text x="67" y="87" class="m" font-size="3" fill="#333">personales</text>
<rect x="14" y="172" width="98" height="10" rx="5" fill="#fff" stroke="#aaa" stroke-width="0.5"/><text x="18" y="178.5" font-size="3" fill="#444">Escribe tu mensaje</text><path d="M115,174 L121,177 L115,180Z" fill="#111"/>
<use href="#kb" x="8" y="186" style="--bg:#6e6e6e;--k:#8c8c8c;--t:#fff;--g:#5a5a5a"/></g>

<g transform="translate(1173,1821)"><text x="8" y="-11" class="lb">Chat con donador 2</text><use href="#fr"/>
<rect x="8" y="24" width="117" height="252" fill="#fff"/><rect x="8" y="24" width="117" height="46" fill="#020f35"/><circle cx="16" cy="43" r="3.5" fill="#888"/>
<circle cx="66" cy="51" r="7" fill="#ddd"/><ellipse cx="66" cy="52" rx="4" ry="5" fill="#c9967a"/><rect x="60" y="55" width="12" height="3" fill="#234"/><text x="66" y="65" class="m" font-size="3.3" fill="#fff">Ricardo Ruiz</text>
<text x="66" y="75" class="m" font-size="2.6" fill="#555">Hoy</text>
<rect x="30" y="78" width="88" height="24" rx="3" fill="#cfe0fb"/><g font-size="2.9" fill="#333"><text x="33" y="85">Hola Ricardo, cómo estás? estaba</text><text x="33" y="90.5">interesada en el libro del Principito?</text><text x="33" y="96">aún lo tienes disponible?</text></g>
<rect x="13" y="107" width="88" height="23" rx="3" fill="#eeeeee"/><g font-size="2.9" fill="#333"><text x="16" y="114">Hola, sí lo tengo disponible, vives por</text><text x="16" y="119.5">el barrio del Eixample? estas cerca de</text><text x="16" y="125">Hospital Clinic?</text></g>
<rect x="30" y="136" width="88" height="23" rx="3" fill="#cfe0fb"/><g font-size="2.9" fill="#333"><text x="33" y="143">Genial, sí vivo por acá cerca, si quieres</text><text x="33" y="148.5">nos vemos en la estación del metro de</text><text x="33" y="154">Hospital Clinic?</text></g>
<rect x="13" y="165" width="88" height="17" rx="3" fill="#eeeeee"/><g font-size="2.9" fill="#333"><text x="16" y="172">Perfecto, justo tomo el metro mañana</text><text x="16" y="177.5">te parece bien a las 19h?</text></g>
<rect x="30" y="188" width="88" height="19" rx="3" fill="#cfe0fb"/><g font-size="2.9" fill="#333"><text x="33" y="195">Perfecto, nos vemos, te aviso cuando</text><text x="33" y="200.5">este allí. Muchas gracias</text></g>
<rect x="14" y="255" width="96" height="10" rx="5" fill="#fff" stroke="#aaa" stroke-width="0.5"/><text x="18" y="261.5" font-size="3" fill="#444">Escribe tu mensaje</text><path d="M113,257 L119,260 L113,263Z" fill="#111"/>
<rect x="44" y="271" width="45" height="1.3" fill="#111"/></g>

<!-- ============ CONNECTORS ============ -->
<g>
<path class="c" d="M164,198 H218" marker-end="url(#a)"/><circle class="o" cx="164" cy="198" r="3"/>
<path class="c" d="M286,284 V361 H675 V282"/><path class="c" d="M490,282 V379" marker-end="url(#a)"/>
<circle class="o" cx="286" cy="284" r="2.5"/><circle class="o" cx="490" cy="282" r="2.5"/><circle class="o" cx="675" cy="282" r="2.5"/>
<path class="c" d="M531,615 H568 V530 H574" marker-end="url(#a)"/><circle class="o" cx="531" cy="615" r="2.5"/>
<path class="c" d="M693,515 H729 V531 H733" marker-end="url(#a)"/><circle class="o" cx="693" cy="515" r="2.5"/>
<path class="c" d="M853,532 H899" marker-end="url(#a)"/><circle class="o" cx="853" cy="532" r="2.5"/>
<path class="c" d="M967,577 V708" marker-end="url(#a)"/><circle class="o" cx="967" cy="577" r="2.5"/>
<path class="c" d="M916,754 H893 V860 H867" marker-end="url(#a)"/><circle class="o" cx="916" cy="754" r="2.5"/>
<path class="c" d="M944,1071 V1130 H670 V1149" marker-end="url(#a)"/>
<path class="c" d="M967,1071 V1149" marker-end="url(#a)"/>
<path class="c" d="M990,1071 V1130 H1234 V1149" marker-end="url(#a)"/>
<circle class="o" cx="944" cy="1071" r="2.5"/><circle class="o" cx="967" cy="1071" r="2.5"/><circle class="o" cx="990" cy="1071" r="2.5"/>
<path class="c" d="M647,1210 H110 V1972 H498" marker-end="url(#a)"/><circle class="o" cx="647" cy="1210" r="2.5"/>
<path class="c" d="M706,1215 H558 V1450 H331 V1469" marker-end="url(#a)"/><circle class="o" cx="706" cy="1215" r="2.5"/>
<path class="c" d="M384,1587 H462 V1620 H498" marker-end="url(#a)"/><circle class="o" cx="384" cy="1587" r="2.5"/>
<path class="c" d="M633,1620 H686" marker-end="url(#a)"/><circle class="o" cx="633" cy="1620" r="2.5"/>
<path class="c" d="M769,1706 H831 V1620 H841" marker-end="url(#a)"/><circle class="o" cx="769" cy="1706" r="2.5"/>
<path class="c" d="M975,1620 H999" marker-end="url(#a)"/><circle class="o" cx="975" cy="1620" r="2.5"/>
<path class="c" d="M967,1217 H1155 V1620 H1165" marker-end="url(#a)"/><circle class="o" cx="967" cy="1217" r="2.5"/>
<path class="c" d="M1230,1584 H1311 V1620 H1320" marker-end="url(#a)"/><circle class="o" cx="1230" cy="1584" r="2.5"/>
<path class="c" d="M1440,1579 H1465 V1620 H1484" marker-end="url(#a)"/><circle class="o" cx="1440" cy="1579" r="2.5"/>
<path class="c" d="M1189,1868 V1886 H1162 V1783 H754 V1820" marker-end="url(#a)"/><circle class="o" cx="1189" cy="1868" r="2.5"/>
<path class="c" d="M563,1930 H684 V1970 H686" marker-end="url(#a)"/><circle class="o" cx="563" cy="1930" r="2.5"/>
<path class="c" d="M806,2063 H830 V1970 H841" marker-end="url(#a)"/><circle class="o" cx="806" cy="2063" r="2.5"/>
<path class="c" d="M904,2085 V2113 H981 V1970 H999" marker-end="url(#a)"/><circle class="o" cx="904" cy="2085" r="2.5"/>
<path class="c" d="M1133,1970 H1172" marker-end="url(#a)"/><circle class="o" cx="1133" cy="1970" r="2.5"/>
</g>
</svg>
</body></html>
